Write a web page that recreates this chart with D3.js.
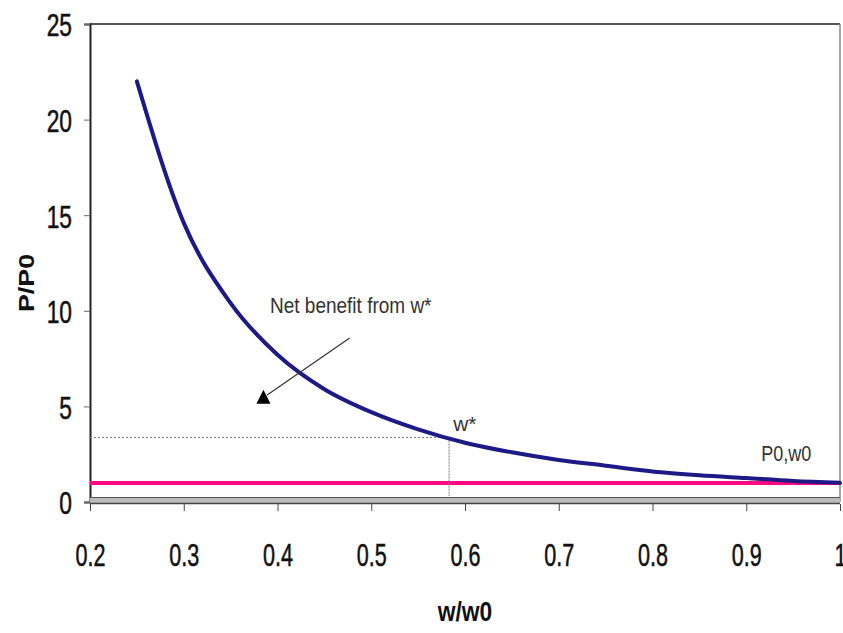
<!DOCTYPE html>
<html><head><meta charset="utf-8">
<script src="https://cdn.jsdelivr.net/npm/d3@7"></script>
<style>
html,body{margin:0;padding:0;background:#fff;}
text{font-family:"Liberation Sans",Arial,sans-serif;}
</style></head>
<body>
<svg id="chart" width="843" height="633"></svg>
<script>
// ---- data ----
const wRatio = [0.25,0.30,0.35,0.40,0.45,0.50,0.55,0.60,0.65,0.70,0.75,0.80,0.85,0.90,0.95,1.00];
const pRatio = [22.0,14.6,10.4,7.7,5.9,4.7,3.8,3.1,2.6,2.2,1.9,1.6,1.4,1.25,1.1,1.0];
const baseline = [1.0];            // P0,w0 level
const wStar = [0.583];             // optimal w*
const pStar = [3.37];              // P/P0 at w*
const xTicks = [0.2,0.3,0.4,0.5,0.6,0.7,0.8,0.9,1];
const xTickLabels = ["0.2","0.3","0.4","0.5","0.6","0.7","0.8","0.9","1"];
const yTicks = [0,5,10,15,20,25];
const yTickLabels = ["0","5","10","15","20","25"];
const labels = {x:"w/w0", y:"P/P0", note:"Net benefit from w*", star:"w*", base:"P0,w0"};

// ---- layout ----
const svg = d3.select("#chart");
const x = d3.scaleLinear().domain([0.2,1]).range([90,840]);
const y = d3.scaleLinear().domain([0,25]).range([502,24]);

// frame top/right
svg.append("line").attr("x1",x(0.2)).attr("x2",x(1)).attr("y1",y(25)).attr("y2",y(25))
  .attr("stroke","#555").attr("stroke-width",2);
svg.append("line").attr("x1",x(1)).attr("x2",x(1)).attr("y1",y(25)).attr("y2",y(0))
  .attr("stroke","#888").attr("stroke-width",1.5);

// y axis
const yAxis = d3.axisLeft(y).tickValues(yTicks).tickFormat((d,i)=>yTickLabels[i]).tickSize(6).tickPadding(12);
const gy = svg.append("g").attr("transform",`translate(${x(0.2)},0)`).call(yAxis);
gy.select(".domain").attr("stroke","#222").attr("stroke-width",2);
gy.selectAll(".tick line").attr("stroke","#666");
gy.selectAll(".tick text").attr("font-size",24).attr("fill","#111")
  .attr("stroke","#111").attr("stroke-width",0.4)
  .attr("font-family","'Liberation Sans',Arial,sans-serif")
  .attr("x",null).attr("dy",null).attr("dominant-baseline","central")
  .attr("transform","translate(-18,1) scale(0.95,1.3)");

// x axis base band
svg.append("rect").attr("x",x(0.2)).attr("y",y(0)-5).attr("width",x(1)-x(0.2)).attr("height",7)
  .attr("fill","#bbb");
svg.append("line").attr("x1",x(0.2)).attr("x2",x(1)).attr("y1",y(0)-4.5).attr("y2",y(0)-4.5)
  .attr("stroke","#555").attr("stroke-width",1.2);
svg.append("line").attr("x1",x(0.2)).attr("x2",x(1)).attr("y1",y(0)+1.5).attr("y2",y(0)+1.5)
  .attr("stroke","#444").attr("stroke-width",1.5);

const xAxis = d3.axisBottom(x).tickValues(xTicks).tickFormat((d,i)=>xTickLabels[i]).tickSize(7).tickPadding(34);
const gx = svg.append("g").attr("transform",`translate(0,${y(0)+2})`).call(xAxis);
gx.select(".domain").remove();
gx.selectAll(".tick line").attr("stroke","#444");
gx.selectAll(".tick text").attr("font-size",24).attr("fill","#111")
  .attr("stroke","#111").attr("stroke-width",0.4)
  .attr("font-family","'Liberation Sans',Arial,sans-serif")
  .attr("y",null).attr("dy",null).attr("dominant-baseline","central")
  .attr("transform","translate(0,52) scale(0.9,1.3)");

// axis titles
svg.append("text").attr("x",465).attr("y",621).attr("text-anchor","middle")
  .attr("font-size",24).attr("font-weight","bold").attr("fill","#111")
  .attr("transform","translate(465,621) scale(0.95,1.15) translate(-465,-621)")
  .text(labels.x);
svg.append("text").attr("transform","translate(34,283) rotate(-90) scale(1.12,0.95)").attr("text-anchor","middle")
  .attr("font-size",24).attr("font-weight","bold").attr("fill","#111")
  .text(labels.y);

// baseline pink line
svg.append("line").attr("x1",x(0.2)).attr("x2",x(1)).attr("y1",y(baseline[0])).attr("y2",y(baseline[0]))
  .attr("stroke","#ff0a80").attr("stroke-width",4);

// dotted guides to w*
svg.append("line").attr("x1",x(0.2)).attr("x2",x(wStar[0])).attr("y1",y(pStar[0])).attr("y2",y(pStar[0]))
  .attr("stroke","#777").attr("stroke-width",1).attr("stroke-dasharray","2,2");
svg.append("line").attr("x1",x(wStar[0])).attr("x2",x(wStar[0])).attr("y1",y(pStar[0])).attr("y2",y(0)-6)
  .attr("stroke","#777").attr("stroke-width",1).attr("stroke-dasharray","2,1");

// curve
const line = d3.line().x((d,i)=>x(wRatio[i])).y(d=>y(d)).curve(d3.curveMonotoneX);
svg.append("path").datum(pRatio).attr("d",line).attr("fill","none")
  .attr("stroke","#1d1a86").attr("stroke-width",4).attr("stroke-linecap","round");

// annotation arrow
const a0 = [x(0.477), y(8.58)], a1 = [x(0.389), y(5.6)];
svg.append("line").attr("x1",a0[0]).attr("y1",a0[1]).attr("x2",a1[0]).attr("y2",a1[1])
  .attr("stroke","#333").attr("stroke-width",1.2);
const tx = x(0.385), ty = y(5.45);
svg.append("path").attr("d",`M${tx-7},${ty+6} L${tx+7},${ty+6} L${tx},${ty-8} Z`).attr("fill","#000");

function stretched(txt, px, py, size, sx, sy){
  svg.append("text").attr("x",px).attr("y",py).attr("font-size",size).attr("fill","#333")
    .attr("transform",`translate(${px},${py}) scale(${sx},${sy}) translate(${-px},${-py})`)
    .text(txt);
}
stretched(labels.note, x(0.392), y(9.9), 19, 1.0, 1.15);
stretched(labels.star, x(0.5875), y(3.7), 19, 1.1, 1.1);
stretched(labels.base, x(0.916), y(2.15), 19, 0.95, 1.15);
</script>
</body></html>
